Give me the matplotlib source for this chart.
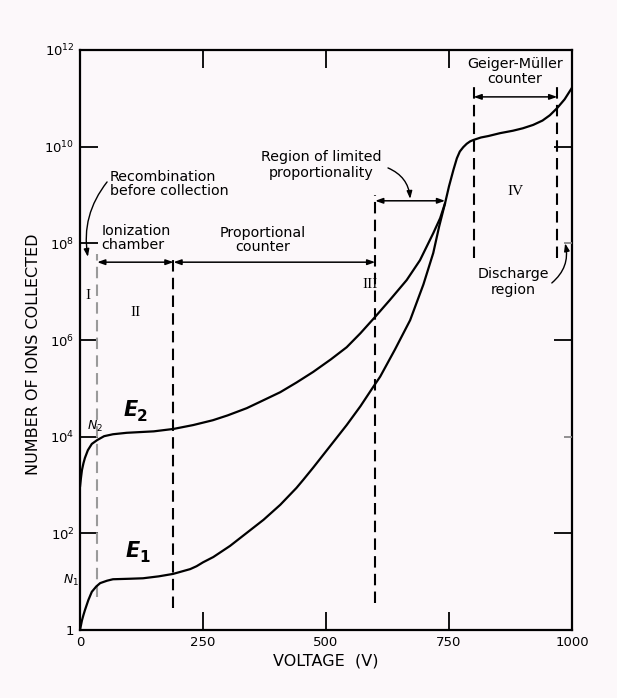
import numpy as np
import matplotlib
matplotlib.use("Agg")
import matplotlib.pyplot as plt

# ---- data (voltage in V, log10 of ions collected) ----
e2_volt = [0, 2, 4, 7, 10, 16, 24, 35, 49, 67, 95, 150, 190, 230, 270, 300, 339,
           370, 407, 440, 474, 510, 542, 570, 600, 630, 664, 691, 718, 732, 742,
           750, 759, 766, 772, 779, 786, 793, 800, 815, 830, 854, 880, 900, 921,
           940, 955, 970, 985, 1000]
e2_log = [2.96, 3.15, 3.31, 3.45, 3.56, 3.72, 3.85, 3.93, 4.01, 4.05, 4.08, 4.11,
          4.16, 4.24, 4.34, 4.44, 4.59, 4.74, 4.92, 5.12, 5.34, 5.60, 5.85, 6.14,
          6.48, 6.83, 7.24, 7.65, 8.21, 8.52, 8.83, 9.18, 9.52, 9.76, 9.90, 9.99,
          10.06, 10.11, 10.14, 10.19, 10.22, 10.28, 10.33, 10.38, 10.45, 10.54,
          10.65, 10.80, 10.98, 11.22]

e1_volt = [0, 2, 4, 7, 10, 17, 24, 33, 41, 55, 67, 100, 128, 160, 189, 203, 224,
           237, 250, 271, 305, 339, 373, 407, 440, 454, 474, 508, 542, 570, 596,
           610, 640, 671, 698, 718, 730, 742]
e1_log = [0.0, 0.10, 0.20, 0.31, 0.41, 0.62, 0.79, 0.90, 0.97, 1.02, 1.05, 1.06,
          1.07, 1.11, 1.16, 1.20, 1.26, 1.32, 1.40, 1.51, 1.74, 2.01, 2.28, 2.59,
          2.94, 3.11, 3.36, 3.80, 4.24, 4.63, 5.03, 5.24, 5.80, 6.41, 7.15, 7.80,
          8.35, 8.83]

x_ticks = [0, 250, 500, 750, 1000]
x_tick_labels = ["0", "250", "500", "750", "1000"]
y_tick_exp = [0, 2, 4, 6, 8, 10, 12]
y_tick_labels = ["1", "10$^{2}$", "10$^{4}$", "10$^{6}$", "10$^{8}$", "10$^{10}$", "10$^{12}$"]

# region boundaries (V)
v_recomb = 35
v_ion = 190
v_prop = 600
v_limit = 742
v_gm_start = 800
v_gm_end = 970

bg = "#fcf8fa"
fig = plt.figure(figsize=(6.17, 6.98), dpi=100, facecolor=bg)
ax = fig.add_axes([80/617, 1 - 630/698, 492/617, 580/698])
ax.set_facecolor(bg)

def N(e):
    return 10.0 ** np.asarray(e, dtype=float)

ax.plot(e2_volt, N(e2_log), color="black", lw=1.6, solid_joinstyle="round",
        solid_capstyle="round", zorder=5)
ax.plot(e1_volt, N(e1_log), color="black", lw=1.6, solid_joinstyle="round",
        solid_capstyle="round", zorder=5)

ax.set_yscale("log")
ax.set_xlim(0, 1000)
ax.set_ylim(1, 1e12)
ax.set_xticks(x_ticks)
ax.set_xticklabels(x_tick_labels, fontsize=9.5)
ax.set_yticks(N(y_tick_exp))
ax.set_yticklabels(y_tick_labels, fontsize=9.5)
ax.yaxis.set_minor_locator(matplotlib.ticker.NullLocator())
ax.tick_params(axis="both", direction="in", length=13, width=1.3, pad=4)
ax.tick_params(axis="x", top=True)
for s in ax.spines.values():
    s.set_linewidth(1.6)

# right-hand ticks (long and short)
axr = ax.twinx()
axr.set_yscale("log")
axr.set_ylim(1, 1e12)
axr.set_yticks(N([2, 6, 10]))
axr.set_yticks(N([4, 8]), minor=True)
axr.tick_params(axis="y", which="major", direction="in", length=13, width=1.3, labelright=False)
axr.tick_params(axis="y", which="minor", direction="in", length=6, width=1.3,
                color="#888888", labelright=False)
axr.yaxis.set_minor_formatter(matplotlib.ticker.NullFormatter())
for s in axr.spines.values():
    s.set_visible(False)

ax.set_xlabel("VOLTAGE  (V)", fontsize=11.5)
ax.xaxis.set_label_coords(0.5, -0.040)
ax.set_ylabel("NUMBER OF IONS COLLECTED", fontsize=11.5)
ax.yaxis.set_label_coords(-0.079, 0.476)

# dashed region boundaries
dash = dict(lw=1.5, dashes=(5.5, 3))
ax.plot([v_recomb, v_recomb], N([0.68, 7.78]), color="#9a9a9a", **dash)
ax.plot([v_ion, v_ion], N([0.45, 7.72]), color="black", **dash)
ax.plot([v_prop, v_prop], N([0.56, 9.0]), color="black", **dash)
ax.plot([v_gm_start, v_gm_start], N([7.7, 11.23]), color="black", **dash)
ax.plot([v_gm_end, v_gm_end], N([7.7, 11.23]), color="black", **dash)

arr = dict(arrowstyle="<|-|>,head_length=0.45,head_width=0.16", color="black", lw=1.1,
           shrinkA=0, shrinkB=0)
y_ion = N(7.61)
ax.annotate("", xy=(v_recomb, y_ion), xytext=(v_ion, y_ion), arrowprops=arr)
ax.annotate("", xy=(v_ion, y_ion), xytext=(v_prop, y_ion), arrowprops=arr)
ax.annotate("", xy=(v_prop, N(8.88)), xytext=(v_limit, N(8.88)), arrowprops=arr)
ax.annotate("", xy=(v_gm_start, N(11.03)), xytext=(v_gm_end, N(11.03)), arrowprops=arr)

# curved pointer arrows
cur = dict(arrowstyle="-|>,head_length=0.45,head_width=0.16", color="black", lw=1.0,
           shrinkA=0, shrinkB=0)
ax.annotate("", xy=(16, N(7.72)), xytext=(55, N(9.27)),
            arrowprops=dict(connectionstyle="arc3,rad=0.22", **cur))
ax.annotate("", xy=(671, N(8.92)), xytext=(626, N(9.56)),
            arrowprops=dict(connectionstyle="arc3,rad=-0.3", **cur))
ax.annotate("", xy=(986, N(8.0)), xytext=(959, N(7.18)),
            arrowprops=dict(connectionstyle="arc3,rad=0.3", **cur))

fs = 10.3
ax.text(61, N(9.23), "Recombination\nbefore collection", fontsize=fs, ha="left",
        va="center", linespacing=1.05)
ax.text(43, N(8.11), "Ionization\nchamber", fontsize=fs, ha="left", va="center",
        linespacing=1.05)
ax.text(372, N(8.07), "Proportional\ncounter", fontsize=fs, ha="center", va="center",
        linespacing=1.05)
ax.text(491, N(9.62), "Region of limited\nproportionality", fontsize=fs, ha="center",
        va="center", linespacing=1.1)
ax.text(884, N(11.55), "Geiger-Müller\ncounter", fontsize=fs, ha="center", va="center",
        linespacing=1.05)
ax.text(880, N(7.2), "Discharge\nregion", fontsize=fs, ha="center", va="center",
        linespacing=1.1)

rom = dict(family="Liberation Serif", fontsize=11, ha="center", va="center")
ax.text(16, N(6.93), "I", **rom)
ax.text(112, N(6.56), "II", **rom)
ax.text(589, N(7.14), "III", **rom)
ax.text(886, N(9.08), "IV", **rom)

# E labels: bold italic E with bold subscript
for (v, e, sub) in [(103, 4.55, "2"), (107, 1.63, "1")]:
    ax.text(v, N(e), "E", fontsize=15, fontstyle="italic", fontweight="bold",
            ha="center", va="center")
    ax.annotate(sub, xy=(v, N(e)), xytext=(4.5, -4.5), textcoords="offset points",
                fontsize=11, fontweight="bold", ha="left", va="center")

ax.text(30, N(4.22), "$N_2$", fontsize=9, ha="center", va="center")
ax.text(-19, N(1.03), "$N_1$", fontsize=9, ha="center", va="center", clip_on=False)

fig.savefig("out.png", dpi=100, facecolor=bg)
